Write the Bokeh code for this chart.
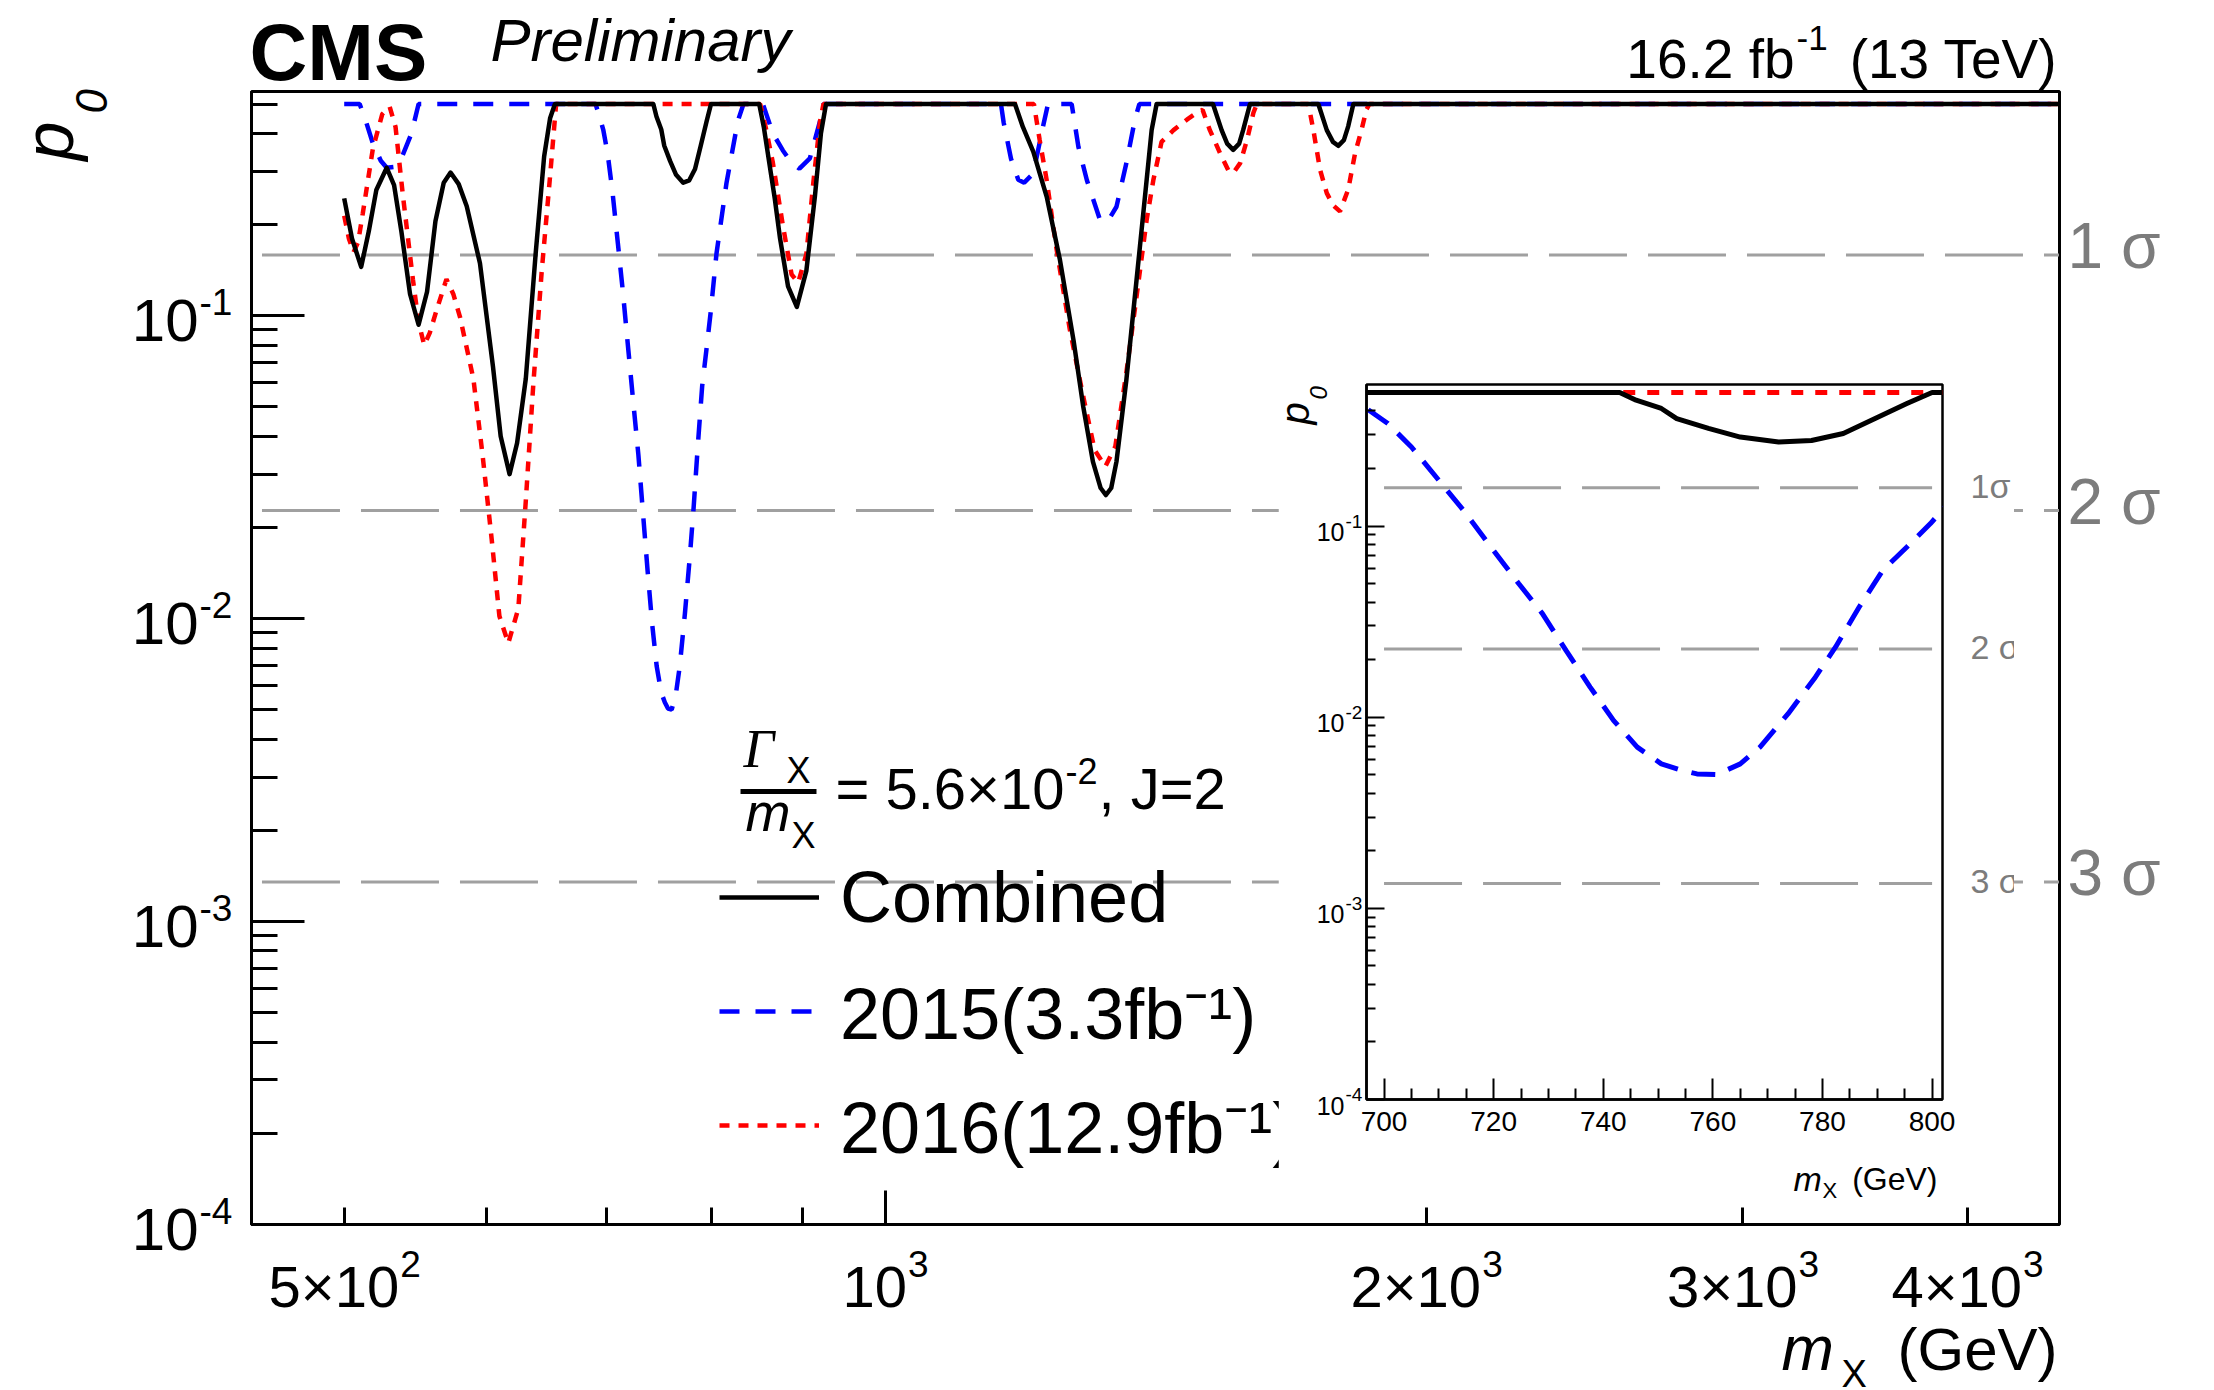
from math import log10, pi

from bokeh.embed import file_html
from bokeh.models import CustomJSTickFormatter, FixedTicker, Label, Legend, LegendItem, Range1d
from bokeh.plotting import figure
from bokeh.resources import INLINE

# ---------------------------------------------------------------------------
# Local p-values versus resonance mass (GeV)
# ---------------------------------------------------------------------------
m_comb = [500, 505, 511, 516, 521, 528, 533, 538, 544, 550, 556, 562, 568, 573,
          579, 585, 595, 605, 611, 618, 624, 631, 639, 646, 651, 655,
          743, 746, 750.6, 753.4, 759.2, 765, 772, 778, 783.8, 789.6, 795.4, 800,
          851, 856, 862, 868, 874, 883, 893, 904, 914, 921, 927,
          1181, 1193, 1209, 1230, 1251, 1273, 1289, 1305, 1318, 1327, 1336, 1345,
          1362, 1380, 1395, 1407, 1416,
          1522, 1539, 1550, 1562, 1574, 1582, 1596,
          1742, 1761, 1775, 1787, 1800, 1810, 1822, 4500]
p_comb = [0.244, 0.180, 0.145, 0.190, 0.260, 0.308, 0.270, 0.190, 0.118, 0.0934,
          0.120, 0.205, 0.275, 0.297, 0.272, 0.230, 0.149, 0.068, 0.040, 0.030,
          0.038, 0.062, 0.160, 0.336, 0.450, 0.500,
          0.500, 0.455, 0.412, 0.365, 0.324, 0.292, 0.275, 0.280, 0.305, 0.365,
          0.437, 0.500,
          0.500, 0.420, 0.320, 0.245, 0.180, 0.125, 0.107, 0.141, 0.249, 0.400,
          0.500,
          0.500, 0.420, 0.348, 0.247, 0.153, 0.083, 0.050, 0.033, 0.027, 0.0256,
          0.027, 0.033, 0.061, 0.131, 0.247, 0.410, 0.500,
          0.500, 0.410, 0.370, 0.353, 0.370, 0.410, 0.500,
          0.500, 0.410, 0.375, 0.364, 0.380, 0.422, 0.500, 0.500]

m_2015 = [500, 510, 514, 519, 524, 528, 533, 537, 545, 550,
          690, 693.6, 696.8, 700.7, 705, 710, 714.5, 719.5, 724.6, 728.9, 733.2,
          737.6, 741.9, 746.2, 750.6, 754, 757.1, 760.7, 765, 768.6, 773.7, 778.7,
          782.4, 786.7, 791, 795.4, 799.7, 805.6, 816, 828, 834,
          855, 866, 877, 887, 896, 908, 920, 924,
          1160, 1164, 1175, 1186, 1195, 1209, 1224, 1232,
          1270, 1281, 1295, 1317, 1330, 1345, 1362, 1377, 1385, 4500]
p_2015 = [0.500, 0.500, 0.440, 0.367, 0.325, 0.308, 0.310, 0.322, 0.400, 0.500,
          0.500, 0.453, 0.412, 0.344, 0.259, 0.1735, 0.1208, 0.0777, 0.0499,
          0.0348, 0.02235, 0.01437, 0.0096, 0.00697, 0.0057, 0.0053, 0.00505,
          0.00501, 0.0057, 0.00697, 0.0104, 0.0162, 0.0233, 0.0377, 0.0586,
          0.0777, 0.103, 0.160, 0.274, 0.440, 0.500,
          0.500, 0.400, 0.352, 0.320, 0.306, 0.331, 0.440, 0.500,
          0.500, 0.434, 0.330, 0.281, 0.275, 0.295, 0.420, 0.500,
          0.500, 0.361, 0.280, 0.207, 0.205, 0.229, 0.318, 0.443, 0.500, 0.500]

m_2016 = [500, 503, 506, 509, 512, 518.7, 525, 530, 534, 539, 546, 550, 554, 558,
          563, 570, 575, 580, 590, 597, 604, 610, 617, 625, 631, 637, 644, 651, 656,
          852, 858, 866, 877, 887, 894.5, 904, 912, 920, 924,
          1210, 1219, 1230, 1245, 1267, 1289, 1308, 1326, 1343, 1362, 1380, 1398,
          1410, 1425, 1447, 1472, 1494, 1502, 1516, 1536, 1552, 1562, 1576, 1590,
          1603, 1610,
          1720, 1731, 1746, 1761, 1775, 1791, 1810, 1826, 1841, 1853, 1860, 4500]
p_2016 = [0.214, 0.180, 0.162, 0.175, 0.217, 0.356, 0.463, 0.490, 0.420, 0.251,
          0.132, 0.095, 0.080, 0.088, 0.105, 0.132, 0.118, 0.099, 0.062, 0.0347,
          0.0183, 0.0102, 0.0083, 0.0108, 0.0245, 0.0586, 0.1404, 0.291, 0.500,
          0.500, 0.420, 0.320, 0.200, 0.137, 0.1285, 0.160, 0.274, 0.440, 0.500,
          0.500, 0.380, 0.280, 0.169, 0.090, 0.054, 0.036, 0.0318, 0.037, 0.0646,
          0.1156, 0.207, 0.280, 0.375, 0.410, 0.444, 0.472, 0.478, 0.410, 0.344,
          0.303, 0.296, 0.319, 0.381, 0.468, 0.500,
          0.500, 0.410, 0.303, 0.254, 0.232, 0.221, 0.261, 0.344, 0.410, 0.480,
          0.500, 0.500]

# one-sided p-values of 1, 2, 3 standard deviations
sigma_names = ["1", "2", "3"]
sigma_p = [0.1587, 0.02275, 0.00135]
sigma_m_main = [450, 4500]
sigma_m_inset = [700, 800]

series_labels = ["Combined", "2015(3.3fb⁻¹)", "2016(12.9fb⁻¹)"]

main_y_decades = [-1, -2, -3, -4]
main_x_label_vals = [500, 1000, 2000, 3000, 4000]
main_x_label_base = ["5×10", "10", "2×10", "3×10", "4×10"]
main_x_label_exp = ["2", "3", "3", "3", "3"]
inset_y_decades = [-1, -2, -3, -4]

# ---------------------------------------------------------------------------
SANS = "Liberation Sans"
SERIF = "Liberation Serif"
GREY_LINE = "#a0a0a0"
GREY_TEXT = "#7c7c7c"
BLUE = "#0000ff"
RED = "#ff0000"
MID = 0.35   # distance baseline -> middle of the text box, in em

# advance widths (1/1000 em) of the sans face, used to chain text pieces
ADV = {c: 556 for c in "0123456789"}
ADV.update({" ": 278, ".": 278, ",": 278, "=": 584, "×": 584, "-": 333,
            "(": 333, ")": 333, "J": 500, "T": 611, "e": 556, "V": 667,
            "f": 278, "b": 556, "G": 778})


def tw(s, size):
    return sum(ADV.get(c, 556) for c in s) / 1000.0 * size


def widen_log(lo, hi, span, before, after):
    """Log range whose frame, grown by `before`/`after` pixels, keeps the
    scale of [lo, hi] drawn over `span` pixels."""
    k = (log10(hi) - log10(lo)) / span
    return 10 ** (log10(lo) - before * k), 10 ** (log10(hi) + after * k)


def widen_lin(lo, hi, span, before, after):
    k = (hi - lo) / span
    return lo - before * k, hi + after * k


def text_layer(width, height, xr, yr, left, top, x_type, y_type, z):
    """Transparent figure covering a whole canvas, used to hold texts that
    sit outside the frame of the panel underneath."""
    t = figure(width=width, height=height, x_axis_type=x_type, y_axis_type=y_type,
               x_range=Range1d(*xr), y_range=Range1d(*yr), min_border=0,
               x_axis_location=None, y_axis_location=None,
               output_backend="svg", toolbar_location=None,
               styles={"position": "absolute", "left": f"{left}px",
                       "top": f"{top}px", "z-index": str(z)})
    t.background_fill_alpha = 0
    t.border_fill_alpha = 0
    t.outline_line_color = None
    t.grid.visible = False
    return t


def put(fig, anchor, origin, px, py, text, size, font=SANS, angle=0.0, **kw):
    """Place a text whose baseline starts at canvas position (px, py); the
    position is given relative to the frame corner `origin` whose data
    coordinates are `anchor`."""
    if angle:
        px -= MID * size
    else:
        py -= MID * size
    kw.setdefault("text_align", "left")
    kw.setdefault("text_color", "black")
    fig.add_layout(Label(x=anchor[0], y=anchor[1], x_offset=px - origin[0],
                         y_offset=origin[1] - py, text=text, text_font=font,
                         text_font_size=f"{size}px", text_baseline="middle",
                         angle=angle, **kw))


blank = CustomJSTickFormatter(code="return ''")

# ---------------------------------------------------------------------------
# main panel
# ---------------------------------------------------------------------------
W, H = 2214, 1390
FL, FR, FT, FB = 251, 2059, 91, 1224
X_LO, X_HI = 444, 4503
Y_LO, Y_HI = 1e-4, 0.55

p = figure(width=W, height=H, x_axis_type="log", y_axis_type="log",
           x_range=Range1d(X_LO, X_HI), y_range=Range1d(Y_LO, Y_HI),
           output_backend="svg", toolbar_location=None,
           min_border_left=FL, min_border_right=W - FR,
           min_border_top=FT, min_border_bottom=H - FB)
p.background_fill_color = "white"
p.border_fill_color = "white"
p.outline_line_color = "black"
p.outline_line_width = 3
p.grid.visible = False

p.xaxis.ticker = FixedTicker(ticks=[1000],
                             minor_ticks=[500, 600, 700, 800, 900, 2000, 3000, 4000])
y_minor = [k * 10.0 ** e for e in (-4, -3, -2, -1) for k in range(2, 10)
           if k * 10.0 ** e <= Y_HI]
p.yaxis.ticker = FixedTicker(ticks=[10.0 ** k for k in main_y_decades],
                             minor_ticks=y_minor)
for ax in (p.xaxis, p.yaxis):
    ax.axis_line_width = 3
    ax.major_tick_line_width = 3
    ax.minor_tick_line_width = 3
    ax.major_tick_out = 0
    ax.minor_tick_out = 0
    ax.formatter = blank
p.xaxis.major_tick_in = 34
p.xaxis.minor_tick_in = 17
p.yaxis.major_tick_in = 53
p.yaxis.minor_tick_in = 26

# significance reference lines
for sp in sigma_p:
    p.line(sigma_m_main, [sp, sp], line_color=GREY_LINE, line_width=3,
           line_dash="78 21")

r15 = p.line(m_2015, p_2015, line_color=BLUE, line_width=4.5, line_dash="20 16")
r16 = p.line(m_2016, p_2016, line_color=RED, line_width=4.5, line_dash="10 9")
rcb = p.line(m_comb, p_comb, line_color="black", line_width=4.5, line_join="round")

legend = Legend(items=[LegendItem(label=series_labels[0], renderers=[rcb]),
                       LegendItem(label=series_labels[1], renderers=[r15]),
                       LegendItem(label=series_labels[2], renderers=[r16])],
                location=(468, 42), orientation="vertical",
                glyph_width=100, glyph_height=114, label_height=114,
                label_standoff=21, spacing=0, padding=0, margin=0,
                border_line_color=None, background_fill_alpha=0,
                label_text_font=SANS, label_text_font_size="72px",
                label_text_color="black")
p.add_layout(legend)

# texts of the main panel live on a transparent layer over the whole canvas
tm = text_layer(W, H, widen_log(X_LO, X_HI, FR - FL, FL, W - FR),
                widen_log(Y_LO, Y_HI, FB - FT, H - FB, FT), 0, 0, "log", "log", 4)
A_MAIN = (X_LO, Y_HI)
O_MAIN = (FL, FT)

# y tick labels 10^k
for k in main_y_decades:
    tm.add_layout(Label(x=X_LO, y=10.0 ** k, x_offset=-53, y_offset=-5, text="10",
                        text_align="right", text_baseline="middle",
                        text_font=SANS, text_font_size="60px", text_color="black"))
    tm.add_layout(Label(x=X_LO, y=10.0 ** k, x_offset=-52, y_offset=14,
                        text=f"-{abs(k)}", text_align="left",
                        text_baseline="middle", text_font=SANS,
                        text_font_size="37px", text_color="black"))

# x tick labels a×10^n, centred as a whole on the tick
for v, base, ex in zip(main_x_label_vals, main_x_label_base, main_x_label_exp):
    shift = (tw(base, 58) - tw(ex, 37)) / 2
    tm.add_layout(Label(x=v, y=Y_LO, x_offset=shift, y_offset=-62, text=base,
                        text_align="right", text_baseline="middle",
                        text_font=SANS, text_font_size="58px", text_color="black"))
    tm.add_layout(Label(x=v, y=Y_LO, x_offset=shift + 1, y_offset=-39, text=ex,
                        text_align="left", text_baseline="middle",
                        text_font=SANS, text_font_size="37px", text_color="black"))

# sigma labels to the right of the frame
for name, sp in zip(sigma_names, sigma_p):
    tm.add_layout(Label(x=X_HI, y=sp, x_offset=8, y_offset=9, text=f"{name} σ",
                        text_align="left", text_baseline="middle",
                        text_font=SANS, text_font_size="64px",
                        text_color=GREY_TEXT))

# header texts
put(tm, A_MAIN, O_MAIN, 249, 80, "CMS", 80, text_font_style="bold")
put(tm, A_MAIN, O_MAIN, 490, 61, "Preliminary", 60, text_font_style="italic")
put(tm, A_MAIN, O_MAIN, 1794, 78, "16.2 fb", 55, text_align="right")
put(tm, A_MAIN, O_MAIN, 1796, 50, "-1", 35)
put(tm, A_MAIN, O_MAIN, 2057, 78, "(13 TeV)", 55, text_align="right")

# axis titles
put(tm, A_MAIN, O_MAIN, 73, 160, "p", 70, text_font_style="italic", angle=pi / 2)
put(tm, A_MAIN, O_MAIN, 106, 113, "0", 44, text_font_style="italic", angle=pi / 2)
put(tm, A_MAIN, O_MAIN, 1781, 1370, "m", 63, text_font_style="italic")
put(tm, A_MAIN, O_MAIN, 1841, 1387, "X", 38)
put(tm, A_MAIN, O_MAIN, 2057, 1370, "(GeV)", 60, text_align="right")

# width-over-mass header of the legend
put(tm, A_MAIN, O_MAIN, 743, 767, "Γ", 54, font=SERIF, text_font_style="italic")
put(tm, A_MAIN, O_MAIN, 786, 783, "X", 36)
put(tm, A_MAIN, O_MAIN, 740, 811, "—", 76)
put(tm, A_MAIN, O_MAIN, 745, 830, "m", 54, text_font_style="italic")
put(tm, A_MAIN, O_MAIN, 791, 848, "X", 36)
hx = 835
put(tm, A_MAIN, O_MAIN, hx, 808, "= 5.6×10", 58)
hx += tw("= 5.6×10", 58) + 1
put(tm, A_MAIN, O_MAIN, hx, 783, "-2", 36)
hx += tw("-2", 36) + 1
put(tm, A_MAIN, O_MAIN, hx, 808, ", J=2", 58)

# ---------------------------------------------------------------------------
# inset: zoom on 700-800 GeV
# ---------------------------------------------------------------------------
IX0, IY0 = 1278, 370          # canvas origin of the inset on the page
IW, IH = 736, 835
IFL, IFR, IFT, IFB = 1366, 1942, 384, 1099
IX_LO, IX_HI = 696.8, 801.9

q = figure(width=IW, height=IH, y_axis_type="log",
           x_range=Range1d(IX_LO, IX_HI), y_range=Range1d(Y_LO, Y_HI),
           output_backend="svg", toolbar_location=None,
           min_border_left=IFL - IX0, min_border_right=IX0 + IW - IFR,
           min_border_top=IFT - IY0, min_border_bottom=IY0 + IH - IFB,
           styles={"position": "absolute", "left": f"{IX0}px",
                   "top": f"{IY0}px", "z-index": "2"})
q.background_fill_color = "white"
q.border_fill_color = "white"
q.outline_line_color = "black"
q.outline_line_width = 2.5
q.grid.visible = False

q.xaxis.ticker = FixedTicker(ticks=list(range(700, 801, 20)),
                             minor_ticks=[v for v in range(700, 805, 5) if v % 20])
q.yaxis.ticker = FixedTicker(ticks=[10.0 ** k for k in inset_y_decades],
                             minor_ticks=y_minor)
for ax in (q.xaxis, q.yaxis):
    ax.axis_line_width = 2.5
    ax.major_tick_line_width = 2
    ax.minor_tick_line_width = 2
    ax.major_tick_out = 0
    ax.minor_tick_out = 0
q.xaxis.major_tick_in = 21
q.xaxis.minor_tick_in = 11
q.yaxis.major_tick_in = 18
q.yaxis.minor_tick_in = 9
q.xaxis.major_label_text_font = SANS
q.xaxis.major_label_text_font_size = "28px"
q.xaxis.major_label_text_color = "black"
q.xaxis.major_label_standoff = 12
q.yaxis.formatter = blank

for sp in sigma_p:
    q.line(sigma_m_inset, [sp, sp], line_color=GREY_LINE, line_width=3,
           line_dash="78 21")

q.line(m_2015, p_2015, line_color=BLUE, line_width=5, line_dash="24 14")
q.line(m_2016, p_2016, line_color=RED, line_width=5, line_dash="12 12")
q.line(m_comb, p_comb, line_color="black", line_width=5, line_join="round")

ti = text_layer(IW, IH,
                widen_lin(IX_LO, IX_HI, IFR - IFL, IFL - IX0, IX0 + IW - IFR),
                widen_log(Y_LO, Y_HI, IFB - IFT, IY0 + IH - IFB, IFT - IY0),
                IX0, IY0, "linear", "log", 3)
A_IN = (IX_LO, Y_HI)
O_IN = (IFL - IX0, IFT - IY0)


def put_in(px, py, text, size, **kw):
    put(ti, A_IN, O_IN, px - IX0, py - IY0, text, size, **kw)


for k in inset_y_decades:
    ti.add_layout(Label(x=IX_LO, y=10.0 ** k, x_offset=-22, y_offset=-6, text="10",
                        text_align="right", text_baseline="middle",
                        text_font=SANS, text_font_size="25px", text_color="black"))
    ti.add_layout(Label(x=IX_LO, y=10.0 ** k, x_offset=-21, y_offset=5,
                        text=f"-{abs(k)}", text_align="left",
                        text_baseline="middle", text_font=SANS,
                        text_font_size="19px", text_color="black"))

for name, sp in zip(sigma_names, sigma_p):
    ti.add_layout(Label(x=IX_HI, y=sp, x_offset=28, y_offset=2,
                        text=f"{name}σ" if name == "1" else f"{name} σ",
                        text_align="left", text_baseline="middle",
                        text_font=SANS, text_font_size="34px",
                        text_color=GREY_TEXT))

put_in(1308, 424, "p", 40, text_font_style="italic", angle=pi / 2)
put_in(1326, 399, "0", 24, text_font_style="italic", angle=pi / 2)
put_in(1793, 1190, "m", 34, text_font_style="italic")
put_in(1822, 1198, "X", 22)
put_in(1937, 1190, "(GeV)", 32, text_align="right")

open("out.html", "w").write(file_html([p, q, ti, tm], INLINE))
